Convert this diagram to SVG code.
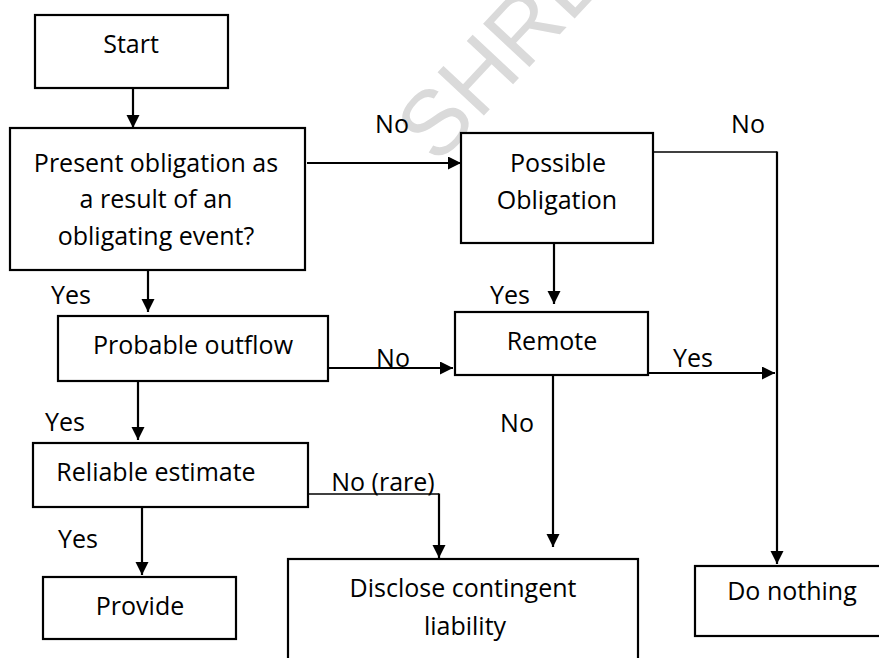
<svg xmlns="http://www.w3.org/2000/svg" width="879" height="658" viewBox="0 0 879 658">
  <style>
    .box { fill: #ffffff; stroke: #000000; stroke-width: 2.2; }
    .lbl { font-family: "Open Sans", "Noto Sans", sans-serif; font-size: 25px; fill: #000000; text-anchor: middle; }
    .wire { fill: none; stroke: #000000; stroke-width: 2.2; }
    .thin { fill: none; stroke: #000000; stroke-width: 1.3; }
    .mark { font-family: "Liberation Sans", sans-serif; font-size: 92px; fill: #dadada; }
  </style>
  <defs>
    <marker id="arrow" markerUnits="userSpaceOnUse" markerWidth="14" markerHeight="14" refX="13" refY="6.5" orient="auto">
      <path d="M0,0 L13,6.5 L0,13 z" fill="#000000"/>
    </marker>
  </defs>

  <rect width="879" height="658" fill="#ffffff"/>

  <!-- faint watermark behind the chart -->
  <text class="mark" transform="translate(437,166) rotate(-47)">SHRE</text>

  <!-- connectors -->
  <g id="connectors">
    <path class="wire" d="M133,88 V128" marker-end="url(#arrow)"/>
    <path class="wire" d="M307,163 H461" marker-end="url(#arrow)"/>
    <path class="thin" d="M653,152 H777"/>
    <path class="wire" d="M777,151.5 V564" marker-end="url(#arrow)"/>
    <path class="wire" d="M148,270 V312" marker-end="url(#arrow)"/>
    <path class="wire" d="M554,243 V304" marker-end="url(#arrow)"/>
    <path class="wire" d="M329,368 H453" marker-end="url(#arrow)"/>
    <path class="wire" d="M648,373 H775" marker-end="url(#arrow)"/>
    <path class="wire" d="M138,381 V440" marker-end="url(#arrow)"/>
    <path class="wire" d="M553,375 V547" marker-end="url(#arrow)"/>
    <path class="wire" d="M142,505 V575" marker-end="url(#arrow)"/>
    <path class="thin" d="M307,494 H439"/>
    <path class="wire" d="M439,493.5 V558" marker-end="url(#arrow)"/>

    <text class="lbl" x="392" y="133">No</text>
    <text class="lbl" x="748" y="133">No</text>
    <text class="lbl" x="71" y="304">Yes</text>
    <text class="lbl" x="510" y="304">Yes</text>
    <text class="lbl" x="393" y="367">No</text>
    <text class="lbl" x="693" y="367">Yes</text>
    <text class="lbl" x="65" y="431">Yes</text>
    <text class="lbl" x="517" y="432">No</text>
    <text class="lbl" x="383" y="491">No (rare)</text>
    <text class="lbl" x="78" y="548">Yes</text>
  </g>

  <!-- nodes -->
  <g id="start">
    <rect class="box" x="35" y="15" width="193" height="73"/>
    <text class="lbl" x="131" y="53">Start</text>
  </g>
  <g id="present-obligation">
    <rect class="box" x="10" y="128" width="295" height="142"/>
    <text class="lbl" x="156" y="172">Present obligation as</text>
    <text class="lbl" x="156" y="208">a result of an</text>
    <text class="lbl" x="156" y="245">obligating event?</text>
  </g>
  <g id="possible-obligation">
    <rect class="box" x="461" y="133" width="192" height="110"/>
    <text class="lbl" x="558" y="172">Possible</text>
    <text class="lbl" x="557" y="209">Obligation</text>
  </g>
  <g id="probable-outflow">
    <rect class="box" x="58" y="316" width="270" height="65"/>
    <text class="lbl" x="193" y="354">Probable outflow</text>
  </g>
  <g id="remote">
    <rect class="box" x="455" y="312" width="193" height="63"/>
    <text class="lbl" x="552" y="350">Remote</text>
  </g>
  <g id="reliable-estimate">
    <rect class="box" x="33" y="443" width="275" height="64"/>
    <text class="lbl" x="156" y="481">Reliable estimate</text>
  </g>
  <g id="provide">
    <rect class="box" x="43" y="577" width="193" height="62"/>
    <text class="lbl" x="140" y="615">Provide</text>
  </g>
  <g id="disclose">
    <rect class="box" x="288" y="559" width="350" height="120"/>
    <text class="lbl" x="463" y="597">Disclose contingent</text>
    <text class="lbl" x="465" y="635">liability</text>
  </g>
  <g id="do-nothing">
    <rect class="box" x="695" y="566" width="200" height="70"/>
    <text class="lbl" x="792" y="600">Do nothing</text>
  </g>
</svg>
